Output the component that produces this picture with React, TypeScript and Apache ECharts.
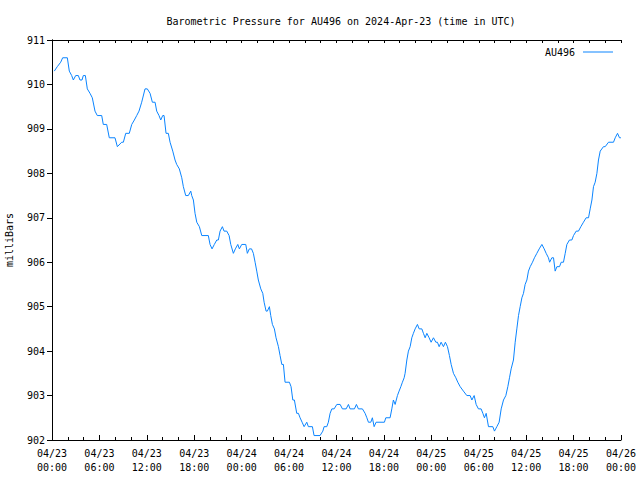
import React, { useEffect, useRef } from "react";
import * as echarts from "echarts";

const TITLE = "Barometric Pressure for AU496 on 2024-Apr-23 (time in UTC)";
const SERIES_NAME = "AU496";
const Y_NAME = "milliBars";
const START_DAY = 23;

// hours since 2024-04-23 00:00 UTC
const hours = [
  0.29, 0.67, 1.1, 1.35, 1.94, 2.19, 2.49, 2.7, 3.0, 3.33, 3.54, 3.8, 3.96, 4.22, 4.47, 4.81, 5.1, 5.44, 5.73, 6.29,
  6.49, 6.92, 7.25, 7.97, 8.27, 8.82, 9.03, 9.33, 9.78, 10.09, 10.42, 10.72, 11.01, 11.35, 11.77, 12.06, 12.41, 12.7, 13.04, 13.25,
  13.54, 13.76, 14.01, 14.18, 14.43, 14.72, 14.94, 15.28, 15.57, 15.78, 16.11, 16.42, 16.62, 16.92, 17.25, 17.56, 17.68, 17.89, 18.1, 18.32,
  18.65, 18.95, 19.78, 20.0, 20.25, 20.54, 20.85, 21.05, 21.27, 21.56, 21.77, 22.11, 22.41, 22.62, 22.95, 23.2, 23.51, 23.71, 24.01, 24.52,
  24.72, 24.97, 25.25, 25.48, 25.7, 25.91, 26.11, 26.42, 26.67, 26.84, 27.09, 27.25, 27.51, 27.68, 27.89, 28.14, 28.35, 28.65, 28.86, 29.08,
  29.28, 29.49, 30.04, 30.25, 30.47, 30.67, 30.97, 31.18, 31.39, 31.65, 31.9, 32.24, 32.44, 32.95, 33.16, 33.92, 34.27, 34.43, 34.77, 34.97,
  35.19, 35.41, 35.7, 36.04, 36.46, 36.75, 37.22, 37.51, 37.72, 38.27, 38.52, 38.77, 39.28, 39.62, 39.84, 40.04, 40.34, 40.54, 40.76, 41.01,
  42.06, 42.24, 42.78, 43.0, 43.2, 43.42, 43.71, 43.92, 44.14, 44.34, 44.56, 44.68, 44.9, 45.1, 45.32, 45.53, 45.73, 45.95, 46.24, 46.46,
  46.8, 47.0, 47.22, 47.43, 47.72, 47.97, 48.27, 48.57, 48.77, 48.99, 49.24, 49.53, 49.78, 50.04, 50.29, 50.51, 50.8, 51.1, 51.35, 51.65,
  52.06, 52.49, 52.91, 53.13, 53.42, 53.67, 53.96, 54.3, 54.52, 54.72, 54.94, 55.23, 55.78, 55.99, 56.29, 56.58, 56.84, 57.13, 57.43, 57.68,
  57.89, 58.1, 58.39, 58.61, 58.82, 59.03, 59.24, 59.46, 59.66, 59.87, 60.09, 60.29, 60.51, 60.8, 61.05, 61.35, 61.65, 61.99, 62.28, 62.53,
  62.82, 62.97, 63.25, 63.46, 63.67, 63.89, 64.22, 64.43, 64.72, 64.94, 65.15, 65.48, 65.78, 65.99, 66.33, 66.62, 66.92, 67.25, 67.59, 67.89,
  68.1, 68.32, 68.52, 68.73, 68.95, 69.15, 69.37, 69.78, 70.0, 70.42, 71.05, 71.27, 71.56, 71.81, 71.99,
];

const pressure = [
  910.3, 910.4, 910.5, 910.6, 910.6, 910.3, 910.2, 910.1, 910.2, 910.2, 910.1, 910.1, 910.2, 910.2, 909.9, 909.8, 909.7, 909.4, 909.3, 909.3,
  909.1, 909.1, 908.8, 908.8, 908.6, 908.7, 908.7, 908.9, 908.9, 909.1, 909.2, 909.3, 909.4, 909.6, 909.9, 909.9, 909.8, 909.6, 909.6, 909.4,
  909.3, 909.2, 909.3, 909.3, 908.9, 908.9, 908.7, 908.5, 908.3, 908.2, 908.1, 907.9, 907.7, 907.5, 907.5, 907.6, 907.5, 907.4, 907.1, 906.9,
  906.8, 906.6, 906.6, 906.4, 906.3, 906.4, 906.5, 906.5, 906.7, 906.8, 906.7, 906.7, 906.6, 906.4, 906.2, 906.3, 906.4, 906.3, 906.4, 906.4,
  906.2, 906.3, 906.3, 906.2, 906.0, 905.8, 905.6, 905.4, 905.3, 905.1, 904.9, 904.9, 905.0, 904.8, 904.6, 904.5, 904.3, 904.1, 903.9, 903.7,
  903.7, 903.3, 903.3, 903.2, 902.9, 902.9, 902.6, 902.6, 902.5, 902.4, 902.3, 902.4, 902.3, 902.3, 902.1, 902.1, 902.2, 902.3, 902.3, 902.4,
  902.6, 902.7, 902.7, 902.8, 902.8, 902.7, 902.7, 902.8, 902.7, 902.7, 902.8, 902.7, 902.7, 902.6, 902.5, 902.4, 902.4, 902.5, 902.3, 902.4,
  902.4, 902.5, 902.5, 902.7, 902.9, 902.8, 903.0, 903.1, 903.2, 903.3, 903.4, 903.5, 903.8, 904.0, 904.1, 904.3, 904.4, 904.5, 904.6, 904.5,
  904.5, 904.4, 904.3, 904.4, 904.3, 904.2, 904.3, 904.2, 904.2, 904.1, 904.2, 904.1, 904.2, 904.1, 903.9, 903.7, 903.5, 903.4, 903.3, 903.2,
  903.1, 903.0, 903.0, 902.9, 903.0, 902.8, 902.7, 902.7, 902.6, 902.5, 902.6, 902.3, 902.3, 902.2, 902.3, 902.4, 902.7, 902.9, 903.0, 903.2,
  903.4, 903.6, 903.8, 904.2, 904.5, 904.8, 905.0, 905.2, 905.3, 905.5, 905.6, 905.8, 905.9, 906.0, 906.1, 906.2, 906.3, 906.4, 906.3, 906.2,
  906.1, 906.0, 906.1, 906.1, 905.8, 905.9, 905.9, 906.0, 906.0, 906.2, 906.4, 906.5, 906.5, 906.6, 906.7, 906.7, 906.8, 906.9, 907.0, 907.0,
  907.2, 907.4, 907.7, 907.8, 908.0, 908.3, 908.5, 908.6, 908.6, 908.7, 908.7, 908.8, 908.9, 908.8, 908.8,
];

const FONT = "DejaVu Sans Mono";
const LINE_COLOR = "#0a84ff";

function pad(n: number) {
  return n < 10 ? "0" + n : "" + n;
}

function timeLabel(h: number) {
  const day = START_DAY + Math.floor(h / 24);
  const hr = Math.round(h % 24);
  return `04/${pad(day)}\n${pad(hr)}:00`;
}

export default function App() {
  const ref = useRef<HTMLDivElement>(null);
  useEffect(() => {
    if (!ref.current) return;
    const chart = echarts.init(ref.current, undefined, { renderer: "svg" });
    const data = hours.map((h, i) => [h, pressure[i]]);
    const axisLine = { show: true, lineStyle: { color: "#000", width: 1 } };
    chart.setOption({
      animation: false,
      backgroundColor: "#fff",
      textStyle: { fontFamily: FONT },
      title: {
        text: TITLE,
        left: 336,
        top: 11,
        textAlign: "center",
        textStyle: { fontFamily: FONT, fontSize: 10, fontWeight: "normal", color: "#000" },
      },
      legend: {
        data: [{ name: SERIES_NAME, icon: "rect" }],
        right: 22,
        top: 42,
        align: "right",
        itemWidth: 30,
        itemHeight: 1,
        itemGap: 0,
        textStyle: { fontFamily: FONT, fontSize: 10, color: "#000", padding: [0, 3, 0, 0] },
      },
      grid: { left: 52, right: 19, top: 40, bottom: 40, containLabel: false, outerBoundsMode: "none" },
      xAxis: [
        {
          type: "value",
          min: 0,
          max: 72,
          interval: 6,
          axisLine,
          axisTick: { show: true, inside: true, length: 5, lineStyle: { color: "#000" } },
          minorTick: { show: true, splitNumber: 3, length: 3, lineStyle: { color: "#000" } },
          splitLine: { show: false },
          axisLabel: {
            formatter: (v: number) => timeLabel(v),
            fontFamily: FONT,
            fontSize: 10,
            color: "#000",
            lineHeight: 14,
            margin: 6,
            showMaxLabel: true,
            showMinLabel: true,
          },
        },
        {
          type: "value",
          position: "top",
          min: 0,
          max: 72,
          interval: 6,
          axisLine,
          axisTick: { show: true, inside: true, length: 3, lineStyle: { color: "#000" } },
          minorTick: { show: true, splitNumber: 3, length: 3, lineStyle: { color: "#000" } },
          splitLine: { show: false },
          axisLabel: { show: false },
        },
      ],
      yAxis: [
        {
          type: "value",
          min: 902,
          max: 911,
          interval: 1,
          name: Y_NAME,
          nameLocation: "middle",
          nameGap: 38,
          nameRotate: 90,
          nameTextStyle: { fontFamily: FONT, fontSize: 10, color: "#000" },
          axisLine,
          axisTick: { show: false },
          splitLine: { show: false },
          axisLabel: { fontFamily: FONT, fontSize: 10, color: "#000", margin: 7 },
        },
        {
          type: "value",
          position: "right",
          min: 902,
          max: 911,
          interval: 1,
          axisLine,
          axisTick: { show: true, inside: true, length: 5, lineStyle: { color: "#000" } },
          splitLine: { show: false },
          axisLabel: { show: false },
        },
      ],
      series: [
        {
          name: SERIES_NAME,
          type: "line",
          data,
          symbol: "none",
          showSymbol: false,
          lineStyle: { color: LINE_COLOR, width: 1 },
          itemStyle: { color: LINE_COLOR },
        },
      ],
    });
    return () => chart.dispose();
  }, []);
  return (
    <div
      ref={ref}
      style={{ position: "fixed", left: 0, top: 0, width: 640, height: 480, background: "#fff" }}
    />
  );
}
